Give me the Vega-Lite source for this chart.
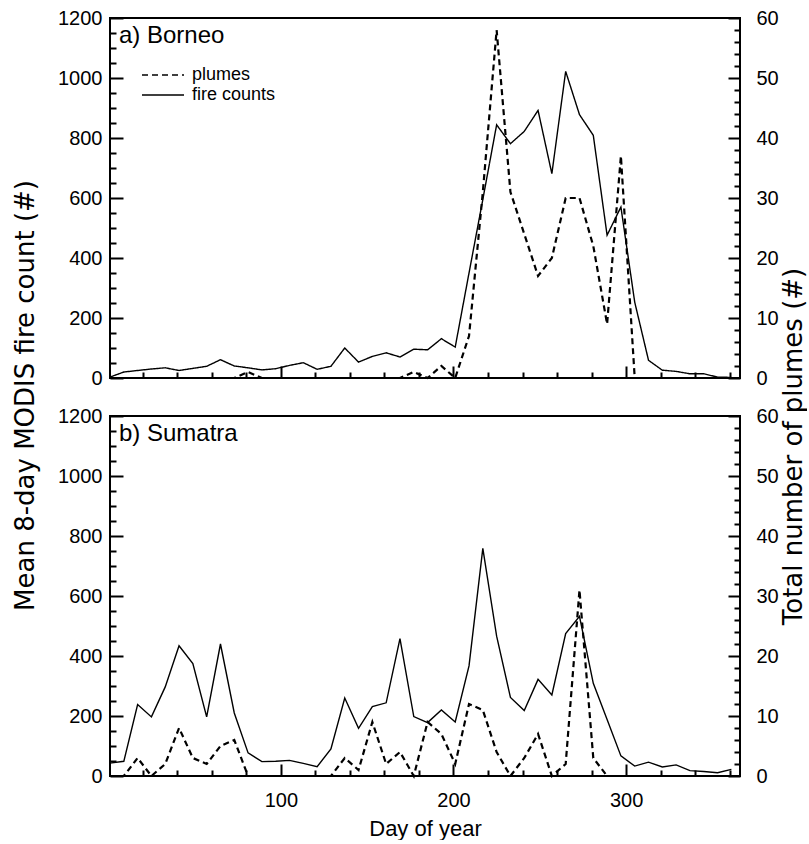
{
  "$schema": "https://vega.github.io/schema/vega-lite/v6.json",
  "autosize": {"type": "pad"},
  "padding": {"left": 11, "top": 7, "right": 0, "bottom": 0},
  "bounds": "flush",
  "spacing": 38,
  "config": {
    "font": "Liberation Sans",
    "view": {"stroke": "black", "strokeWidth": 2},
    "axis": {
      "zindex": 1,
      "labelFont": "Liberation Sans",
      "labelFontSize": 20,
      "labelColor": "black",
      "tickColor": "black",
      "tickWidth": 2,
      "tickOpacity": 1,
      "gridColor": "black",
      "gridWidth": 2,
      "gridOpacity": 1,
      "domain": false,
      "grid": false,
      "titleFont": "Liberation Sans",
      "titleFontSize": 22,
      "titleFontWeight": "normal",
      "titleColor": "black",
      "labelFlush": false,
      "labelOverlap": false,
      "labelBound": false
    },
    "title": {"font": "Liberation Sans", "color": "black", "fontWeight": "normal"}
  },
  "datasets": {
    "borneo": [
      {"day": 1, "fire": 3, "plumes": 0},
      {"day": 9, "fire": 20, "plumes": 0},
      {"day": 17, "fire": 25, "plumes": 0},
      {"day": 25, "fire": 30, "plumes": 0},
      {"day": 33, "fire": 34, "plumes": 0},
      {"day": 41, "fire": 25, "plumes": 0},
      {"day": 49, "fire": 32, "plumes": 0},
      {"day": 57, "fire": 39, "plumes": 0},
      {"day": 65, "fire": 61, "plumes": 0},
      {"day": 73, "fire": 40, "plumes": 0},
      {"day": 81, "fire": 34, "plumes": 1},
      {"day": 89, "fire": 27, "plumes": 0},
      {"day": 97, "fire": 31, "plumes": 0},
      {"day": 105, "fire": 42, "plumes": 0},
      {"day": 113, "fire": 51, "plumes": 0},
      {"day": 121, "fire": 29, "plumes": 0},
      {"day": 129, "fire": 39, "plumes": 0},
      {"day": 137, "fire": 100, "plumes": 0},
      {"day": 145, "fire": 53, "plumes": 0},
      {"day": 153, "fire": 72, "plumes": 0},
      {"day": 161, "fire": 84, "plumes": 0},
      {"day": 169, "fire": 70, "plumes": 0},
      {"day": 177, "fire": 96, "plumes": 1},
      {"day": 185, "fire": 94, "plumes": 0},
      {"day": 193, "fire": 131, "plumes": 2},
      {"day": 201, "fire": 103, "plumes": 0},
      {"day": 209, "fire": 350, "plumes": 7},
      {"day": 217, "fire": 595, "plumes": 31},
      {"day": 225, "fire": 844, "plumes": 58},
      {"day": 233, "fire": 781, "plumes": 31},
      {"day": 241, "fire": 822, "plumes": 24},
      {"day": 249, "fire": 892, "plumes": 17},
      {"day": 257, "fire": 681, "plumes": 20},
      {"day": 265, "fire": 1022, "plumes": 30},
      {"day": 273, "fire": 878, "plumes": 30},
      {"day": 281, "fire": 809, "plumes": 22},
      {"day": 289, "fire": 476, "plumes": 9},
      {"day": 297, "fire": 570, "plumes": 37},
      {"day": 305, "fire": 253, "plumes": 0},
      {"day": 313, "fire": 59, "plumes": 0},
      {"day": 321, "fire": 26, "plumes": 0},
      {"day": 329, "fire": 22, "plumes": 0},
      {"day": 337, "fire": 14, "plumes": 0},
      {"day": 345, "fire": 14, "plumes": 0},
      {"day": 353, "fire": 3, "plumes": 0},
      {"day": 361, "fire": 2, "plumes": 0}
    ],
    "sumatra": [
      {"day": 1, "fire": 43, "plumes": 0},
      {"day": 9, "fire": 49, "plumes": 0},
      {"day": 17, "fire": 238, "plumes": 3},
      {"day": 25, "fire": 197, "plumes": 0},
      {"day": 33, "fire": 297, "plumes": 2},
      {"day": 41, "fire": 434, "plumes": 8},
      {"day": 49, "fire": 375, "plumes": 3},
      {"day": 57, "fire": 197, "plumes": 2},
      {"day": 65, "fire": 440, "plumes": 5},
      {"day": 73, "fire": 210, "plumes": 6},
      {"day": 81, "fire": 77, "plumes": 0},
      {"day": 89, "fire": 48, "plumes": 0},
      {"day": 97, "fire": 49, "plumes": 0},
      {"day": 105, "fire": 52, "plumes": 0},
      {"day": 113, "fire": 42, "plumes": 0},
      {"day": 121, "fire": 31, "plumes": 0},
      {"day": 129, "fire": 90, "plumes": 0},
      {"day": 137, "fire": 260, "plumes": 3},
      {"day": 145, "fire": 159, "plumes": 1},
      {"day": 153, "fire": 231, "plumes": 9},
      {"day": 161, "fire": 244, "plumes": 2},
      {"day": 169, "fire": 458, "plumes": 4},
      {"day": 177, "fire": 198, "plumes": 0},
      {"day": 185, "fire": 178, "plumes": 9},
      {"day": 193, "fire": 220, "plumes": 7},
      {"day": 201, "fire": 180, "plumes": 2},
      {"day": 209, "fire": 367, "plumes": 12},
      {"day": 217, "fire": 759, "plumes": 11},
      {"day": 225, "fire": 466, "plumes": 4},
      {"day": 233, "fire": 262, "plumes": 0},
      {"day": 241, "fire": 218, "plumes": 3},
      {"day": 249, "fire": 322, "plumes": 7},
      {"day": 257, "fire": 270, "plumes": 0},
      {"day": 265, "fire": 475, "plumes": 2},
      {"day": 273, "fire": 532, "plumes": 31},
      {"day": 281, "fire": 309, "plumes": 3},
      {"day": 289, "fire": 188, "plumes": 0},
      {"day": 297, "fire": 67, "plumes": 0},
      {"day": 305, "fire": 33, "plumes": 0},
      {"day": 313, "fire": 46, "plumes": 0},
      {"day": 321, "fire": 30, "plumes": 0},
      {"day": 329, "fire": 37, "plumes": 0},
      {"day": 337, "fire": 18, "plumes": 0},
      {"day": 345, "fire": 15, "plumes": 0},
      {"day": 353, "fire": 11, "plumes": 0},
      {"day": 361, "fire": 22, "plumes": 0}
    ]
  },
  "vconcat": [
    {
      "width": 630,
      "height": 360,
      "data": {"name": "borneo"},
      "title": {"text": "a) Borneo", "anchor": "start", "frame": "group", "offset": -40, "dx": 9, "fontSize": 24},
      "layer": [
        {
          "mark": {"type": "line", "color": "black", "strokeWidth": 1.4},
          "encoding": {
            "x": {
              "field": "day", "type": "quantitative",
              "scale": {"domain": [1, 366], "nice": false, "zero": false},
              "axis": {"orient": "bottom", "values": [100, 200, 300], "labels": false, "tickSize": 12, "offset": -12, "title": null}
            },
            "y": {
              "field": "fire", "type": "quantitative",
              "scale": {"domain": [0, 1200], "nice": false},
              "axis": {
                "orient": "left",
                "values": [0, 200, 400, 600, 800, 1000, 1200],
                "format": "d",
                "ticks": true, "tickSize": 13, "offset": -13, "labelPadding": 8,
                "title": "Mean 8-day MODIS fire count (#)",
                "titleFont": "DejaVu Sans", "titleFontSize": 26,
                "titleX": -98, "titleY": 377, "titleAngle": 270, "titleAlign": "center", "titleBaseline": "middle"
              }
            },
            "strokeDash": {
              "datum": "fire counts", "type": "nominal",
              "scale": {"domain": ["plumes", "fire counts"], "range": [[6, 4], [1, 0]]},
              "legend": {
                "orient": "none", "legendX": 31, "legendY": 47, "title": null,
                "symbolType": "stroke", "symbolSize": 1764, "symbolStrokeWidth": 1.5, "symbolStrokeColor": "black",
                "labelFontSize": 18, "labelFont": "Liberation Sans", "labelColor": "black", "labelOffset": 7,
                "clipHeight": 20, "rowPadding": 0, "padding": 0
              }
            }
          }
        },
        {
          "mark": {"type": "line", "color": "black", "strokeWidth": 2.2},
          "encoding": {
            "x": {"field": "day", "type": "quantitative", "scale": {"domain": [1, 366], "nice": false, "zero": false}, "axis": null},
            "y": {
              "field": "plumes", "type": "quantitative",
              "scale": {"domain": [0, 60], "nice": false},
              "axis": {
                "orient": "right",
                "values": [0, 10, 20, 30, 40, 50, 60],
                "ticks": true, "tickSize": 12, "offset": -12, "labelPadding": 16,
                "title": "Total number of plumes (#)",
                "titleFont": "DejaVu Sans", "titleFontSize": 26,
                "titleX": 65, "titleY": 428, "titleAngle": 270, "titleAlign": "center", "titleBaseline": "middle"
              }
            },
            "strokeDash": {"datum": "plumes", "type": "nominal"}
          }
        },
        {
          "mark": {"type": "line", "opacity": 0},
          "encoding": {
            "x": {
              "field": "day", "type": "quantitative",
              "scale": {"domain": [1, 366], "nice": false, "zero": false},
              "axis": {"orient": "bottom", "values": [20,40,60,80,120,140,160,180,220,240,260,280,320,340,360], "labels": false, "ticks": true, "tickSize": 6, "offset": -6, "title": null}
            },
            "y": {
              "field": "fire", "type": "quantitative",
              "scale": {"domain": [0, 1200], "nice": false},
              "axis": {
                "orient": "left",
                "values": [50,100,150,250,300,350,450,500,550,650,700,750,850,900,950,1050,1100,1150],
                "labels": false, "ticks": false, "grid": true, "gridDash": [6, 3000], "title": null
              }
            }
          }
        },
        {
          "mark": {"type": "line", "opacity": 0},
          "encoding": {
            "x": {"field": "day", "type": "quantitative", "scale": {"domain": [1, 366], "nice": false, "zero": false}, "axis": null},
            "y": {
              "field": "plumes", "type": "quantitative",
              "scale": {"domain": [0, 60], "nice": false},
              "axis": {
                "orient": "right",
                "values": [2,4,6,8,12,14,16,18,22,24,26,28,32,34,36,38,42,44,46,48,52,54,56,58],
                "labels": false, "ticks": false, "grid": true, "gridDash": [6, 3000], "title": null
              }
            }
          }
        }
      ],
      "resolve": {"scale": {"x": "independent", "y": "independent"}}
    },
    {
      "width": 630,
      "height": 360,
      "data": {"name": "sumatra"},
      "title": {"text": "b) Sumatra", "anchor": "start", "frame": "group", "offset": -40, "dx": 9, "fontSize": 24},
      "layer": [
        {
          "mark": {"type": "line", "color": "black", "strokeWidth": 1.4},
          "encoding": {
            "x": {
              "field": "day", "type": "quantitative",
              "scale": {"domain": [1, 366], "nice": false, "zero": false},
              "axis": {"orient": "bottom", "values": [100, 200, 300], "tickSize": 12, "offset": -12, "labelPadding": 14, "title": "Day of year", "titlePadding": 8}
            },
            "y": {
              "field": "fire", "type": "quantitative",
              "scale": {"domain": [0, 1200], "nice": false},
              "axis": {
                "orient": "left",
                "values": [0, 200, 400, 600, 800, 1000, 1200],
                "format": "d",
                "ticks": true, "tickSize": 13, "offset": -13, "labelPadding": 8,
                "title": null
              }
            }
          }
        },
        {
          "mark": {"type": "line", "color": "black", "strokeWidth": 2.2, "strokeDash": [6, 4]},
          "encoding": {
            "x": {"field": "day", "type": "quantitative", "scale": {"domain": [1, 366], "nice": false, "zero": false}, "axis": null},
            "y": {
              "field": "plumes", "type": "quantitative",
              "scale": {"domain": [0, 60], "nice": false},
              "axis": {
                "orient": "right",
                "values": [0, 10, 20, 30, 40, 50, 60],
                "ticks": true, "tickSize": 12, "offset": -12, "labelPadding": 16,
                "title": null
              }
            }
          }
        },
        {
          "mark": {"type": "line", "opacity": 0},
          "encoding": {
            "x": {
              "field": "day", "type": "quantitative",
              "scale": {"domain": [1, 366], "nice": false, "zero": false},
              "axis": {"orient": "bottom", "values": [20,40,60,80,120,140,160,180,220,240,260,280,320,340,360], "labels": false, "ticks": true, "tickSize": 6, "offset": -6, "title": null}
            },
            "y": {
              "field": "fire", "type": "quantitative",
              "scale": {"domain": [0, 1200], "nice": false},
              "axis": {
                "orient": "left",
                "values": [50,100,150,250,300,350,450,500,550,650,700,750,850,900,950,1050,1100,1150],
                "labels": false, "ticks": false, "grid": true, "gridDash": [6, 3000], "title": null
              }
            }
          }
        },
        {
          "mark": {"type": "line", "opacity": 0},
          "encoding": {
            "x": {"field": "day", "type": "quantitative", "scale": {"domain": [1, 366], "nice": false, "zero": false}, "axis": null},
            "y": {
              "field": "plumes", "type": "quantitative",
              "scale": {"domain": [0, 60], "nice": false},
              "axis": {
                "orient": "right",
                "values": [2,4,6,8,12,14,16,18,22,24,26,28,32,34,36,38,42,44,46,48,52,54,56,58],
                "labels": false, "ticks": false, "grid": true, "gridDash": [6, 3000], "title": null
              }
            }
          }
        }
      ],
      "resolve": {"scale": {"x": "independent", "y": "independent"}}
    }
  ]
}
